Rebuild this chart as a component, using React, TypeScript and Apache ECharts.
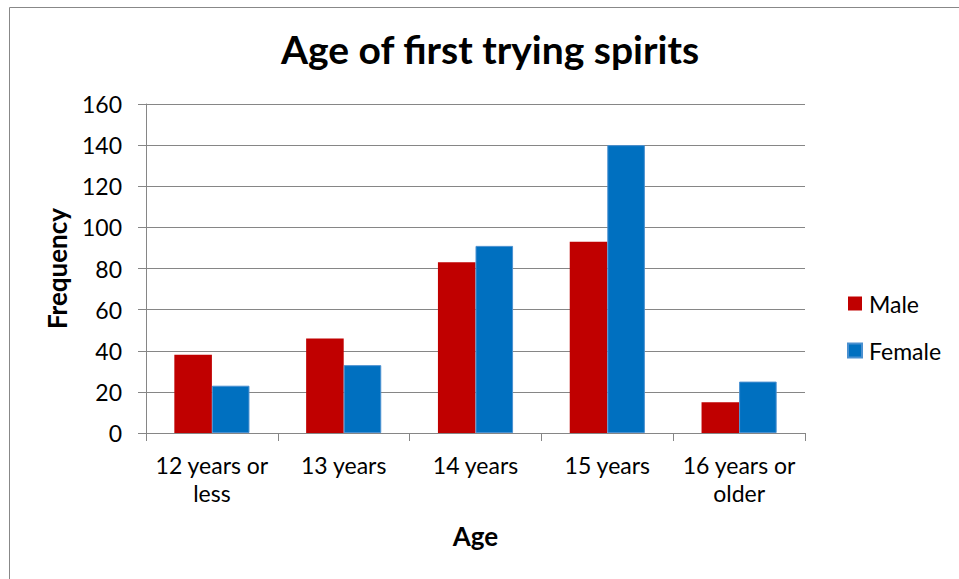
import React, { useEffect, useRef } from "react";
import * as echarts from "echarts";

const categories = ["12 years or\nless", "13 years", "14 years", "15 years", "16 years or\nolder"];
const maleValues = [38, 46, 83, 93, 15];
const femaleValues = [23, 33, 91, 140, 25];
const seriesNames = ["Male", "Female"];
const titleText = "Age of first trying spirits";
const xAxisTitle = "Age";
const yAxisTitle = "Frequency";

const FONT = "Lato, 'Open Sans', sans-serif";

export default function App() {
  const ref = useRef<HTMLDivElement>(null);
  useEffect(() => {
    if (!ref.current) return;
    const chart = echarts.init(ref.current, undefined, { renderer: "svg" });
    chart.setOption({
      animation: false,
      backgroundColor: "#ffffff",
      textStyle: { fontFamily: FONT },
      title: {
        text: titleText,
        left: 490,
        top: 29,
        padding: 0,
        textAlign: "center",
        textStyle: { fontSize: 39, fontWeight: "bold", color: "#000", fontFamily: FONT },
      },
      graphic: [
        { type: "line", shape: { x1: 9.5, y1: 7.5, x2: 959, y2: 7.5 }, style: { stroke: "#888", lineWidth: 1 } },
        { type: "line", shape: { x1: 9.5, y1: 7.5, x2: 9.5, y2: 579 }, style: { stroke: "#888", lineWidth: 1 } },
      ],
      legend: {
        orient: "vertical",
        left: 847,
        top: 292,
        padding: 0,
        itemWidth: 14,
        itemHeight: 14,
        itemGap: 24,
        icon: "rect",
        textStyle: { fontSize: 23, color: "#000", fontFamily: FONT, padding: [0, 0, 0, 2] },
        data: seriesNames,
      },
      grid: { left: 146, right: 154, top: 104, bottom: 146, containLabel: false },
      xAxis: {
        type: "category",
        data: categories,
        name: xAxisTitle,
        nameLocation: "middle",
        nameGap: 90,
        nameTextStyle: { fontSize: 26, fontWeight: "bold", color: "#000", fontFamily: FONT },
        axisLine: { lineStyle: { color: "#868686", width: 1 } },
        axisTick: { show: true, length: 8, lineStyle: { color: "#868686" } },
        axisLabel: { fontSize: 23, color: "#000", margin: 18, lineHeight: 28, interval: 0, fontFamily: FONT },
      },
      yAxis: {
        type: "value",
        min: 0,
        max: 160,
        interval: 20,
        name: yAxisTitle,
        nameLocation: "middle",
        nameGap: 76,
        nameRotate: 90,
        nameTextStyle: { fontSize: 26, fontWeight: "bold", color: "#000", fontFamily: FONT },
        axisLine: { show: true, lineStyle: { color: "#868686", width: 1 } },
        axisTick: { show: true, length: 8, lineStyle: { color: "#868686" } },
        axisLabel: { fontSize: 23, color: "#000", margin: 24, fontFamily: FONT },
        splitLine: { show: true, lineStyle: { color: "#868686", width: 1 } },
      },
      series: [
        {
          name: seriesNames[0],
          type: "bar",
          data: maleValues,
          barGap: "0%",
          barCategoryGap: "43%",
          itemStyle: { color: "#C00000" },
        },
        {
          name: seriesNames[1],
          type: "bar",
          data: femaleValues,
          barGap: "0%",
          barCategoryGap: "43%",
          itemStyle: { color: "#0070C0", borderColor: "#4A90D0", borderWidth: 1 },
        },
      ],
    });
    return () => chart.dispose();
  }, []);
  return <div ref={ref} style={{ position: "absolute", left: 0, top: 0, width: 959, height: 579 }} />;
}
